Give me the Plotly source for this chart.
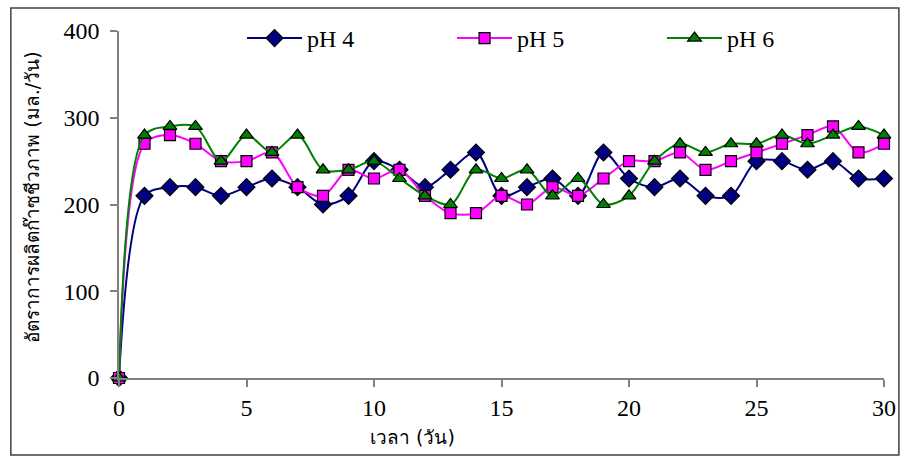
import plotly.graph_objects as go

# Biogas production rate (ml/day) over time (days) at three pH levels
days = list(range(0, 31))
ph4 = [0, 210, 220, 220, 210, 220, 230, 220, 200, 210, 250, 240, 220, 240, 260, 210,
       220, 230, 210, 260, 230, 220, 230, 210, 210, 250, 250, 240, 250, 230, 230]
ph5 = [0, 270, 280, 270, 250, 250, 260, 220, 210, 240, 230, 240, 210, 190, 190, 210,
       200, 220, 210, 230, 250, 250, 260, 240, 250, 260, 270, 280, 290, 260, 270]
ph6 = [0, 280, 290, 290, 250, 280, 260, 280, 240, 240, 250, 230, 210, 200, 240, 230,
       240, 210, 230, 200, 210, 250, 270, 260, 270, 270, 280, 270, 280, 290, 280]

series = [
    ("pH 4", ph4, "#000080", "#000080", "diamond", 13),
    ("pH 5", ph5, "#FF00FF", "#FF00FF", "square", 11),
    ("pH 6", ph6, "#008000", "#008000", "triangle-up", 12),
]

fig = go.Figure()
for name, vals, lcol, mcol, sym, size in series:
    fig.add_trace(go.Scatter(
        x=days, y=vals, name=name, mode="lines+markers",
        line=dict(color=lcol, width=2, shape="spline", smoothing=0.9),
        marker=dict(symbol=sym, size=size, color=mcol,
                    line=dict(color="#000000", width=1.2)),
        cliponaxis=False,
    ))

W, H = 908, 462
L, R, T, B = 119, 18, 31, 84
pw, ph = W - L - R, H - T - B

def px_to_paper_x(px):
    return (px - L) / pw

def px_to_paper_y(py):
    return (H - B - py) / ph

serif = "Times New Roman, Liberation Serif, Tinos, serif"
thai = "Tahoma, DejaVu Sans, Noto Sans, sans-serif"

fig.update_layout(
    width=W, height=H,
    margin=dict(l=L, r=R, t=T, b=B),
    paper_bgcolor="white", plot_bgcolor="white",
    showlegend=True,
    legend=dict(
        orientation="h", x=px_to_paper_x(243), y=px_to_paper_y(16),
        xanchor="left", yanchor="top",
        font=dict(family=serif, size=24, color="black"),
        itemwidth=55, entrywidth=140, entrywidthmode="pixels",
        bgcolor="rgba(0,0,0,0)", traceorder="normal",
    ),
    xaxis=dict(
        range=[0, 30], tickmode="array", tickvals=[0, 5, 10, 15, 20, 25, 30],
        ticks="outside", ticklen=7, tickcolor="#808080", tickwidth=1.5,
        showline=True, linecolor="#808080", linewidth=1.5,
        showgrid=False, zeroline=False,
        tickfont=dict(family=serif, size=24, color="black"),
    ),
    yaxis=dict(
        range=[0, 400], tickmode="array", tickvals=[0, 100, 200, 300, 400],
        ticks="outside", ticklen=7, tickcolor="#808080", tickwidth=1.5,
        showline=True, linecolor="#808080", linewidth=1.5,
        showgrid=False, zeroline=False, ticklabelstandoff=6,
        tickfont=dict(family=serif, size=24, color="black"),
    ),
    annotations=[
        dict(text="อัตราการผลิตก๊าซชีวภาพ (มล./วัน)", textangle=-90,
             xref="paper", yref="paper",
             x=px_to_paper_x(31), y=px_to_paper_y(197),
             xanchor="center", yanchor="middle", showarrow=False,
             font=dict(family=thai, size=19, color="black")),
        dict(text="เวลา (วัน)", xref="paper", yref="paper",
             x=px_to_paper_x(415), y=px_to_paper_y(437),
             xanchor="center", yanchor="middle", showarrow=False,
             font=dict(family=thai, size=19, color="black")),
    ],
    shapes=[
        dict(type="rect", xref="paper", yref="paper",
             x0=px_to_paper_x(10), x1=px_to_paper_x(905),
             y0=px_to_paper_y(455), y1=px_to_paper_y(8),
             line=dict(color="#404040", width=1.5), fillcolor="rgba(0,0,0,0)",
             layer="below"),
    ],
)

fig.write_html("out.html")
